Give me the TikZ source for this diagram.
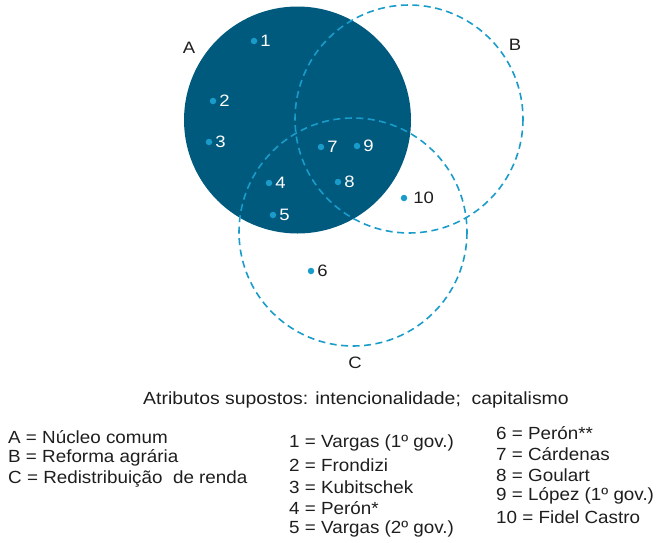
\documentclass[tikz,border=0pt]{standalone}
\usepackage{fontspec}
\setmainfont{Liberation Sans}
\usepackage{xcolor}
\definecolor{vennfill}{HTML}{005A7E}
\definecolor{venndash}{HTML}{1A9CCB}
\definecolor{venntext}{HTML}{1E1E1E}

\tikzset{
  setring/.style={venndash, line width=1.6pt, dash pattern=on 7pt off 4.5pt},
  ptdot/.style={circle, fill=venndash, inner sep=0pt, minimum size=6.5pt},
  inlbl/.style={text=white, font=\fontsize{16.5}{18}\selectfont, xscale=1.12, inner sep=1pt, label distance=1.5pt},
  outlbl/.style={text=venntext, font=\fontsize{16.5}{18}\selectfont, xscale=1.12, inner sep=1pt, label distance=1.5pt},
  legend/.style={anchor=west, text=venntext, inner sep=0pt, xscale=1.07, font=\fontsize{17.6}{19}\selectfont}
}

\begin{document}
\begin{tikzpicture}[x=1pt, y=-1pt]
  \useasboundingbox (0,0) rectangle (657,542);
  % conjuntos
  \fill[vennfill] (297.5,120) circle[radius=113.5];
  \draw[setring] (409,119) circle[radius=114];
  \draw[setring] (353,232) circle[radius=114];
  \node[outlbl] (lA) at (189,48) {A};
  \node[outlbl] (lB) at (515,45) {B};
  \node[outlbl] (lC) at (355,363) {C};
  % governos
  \node[ptdot, label={[inlbl]right:1}] (p1) at (254,41) {};
  \node[ptdot, label={[inlbl]right:2}] (p2) at (213,101) {};
  \node[ptdot, label={[inlbl]right:3}] (p3) at (209,142) {};
  \node[ptdot, label={[inlbl]right:4}] (p4) at (269,183) {};
  \node[ptdot, label={[inlbl]right:5}] (p5) at (273,215) {};
  \node[ptdot, label={[outlbl]right:6}] (p6) at (311,271) {};
  \node[ptdot, label={[inlbl]right:7}] (p7) at (321,147) {};
  \node[ptdot, label={[inlbl]right:8}] (p8) at (338,182) {};
  \node[ptdot, label={[inlbl]right:9}] (p9) at (357,146) {};
  \node[ptdot, label={[outlbl, label distance=4pt]right:10}] (p10) at (404,198) {};
  % legenda
  \node[legend, anchor=center, xscale=1.03] (attr) at (356,400) {Atributos supostos: intencionalidade;\ \ capitalismo};
  \node[legend] (kA) at (8,437) {A = Núcleo comum};
  \node[legend] (kB) at (8,458) {B = Reforma agrária};
  \node[legend] (kC) at (8,479) {C = Redistribuição\ \ de renda};
  \node[legend] (k1) at (289,443) {1 = Vargas (1º gov.)};
  \node[legend] (k2) at (289,465) {2 = Frondizi};
  \node[legend] (k3) at (289,487) {3 = Kubitschek};
  \node[legend] (k4) at (289,508) {4 = Perón*};
  \node[legend] (k5) at (289,529) {5 = Vargas (2º gov.)};
  \node[legend] (k6) at (496,433) {6 = Perón**};
  \node[legend] (k7) at (496,454) {7 = Cárdenas};
  \node[legend] (k8) at (496,475) {8 = Goulart};
  \node[legend] (k9) at (496,496) {9 = López (1º gov.)};
  \node[legend] (k10) at (496,517) {10 = Fidel Castro};
\end{tikzpicture}
\end{document}
